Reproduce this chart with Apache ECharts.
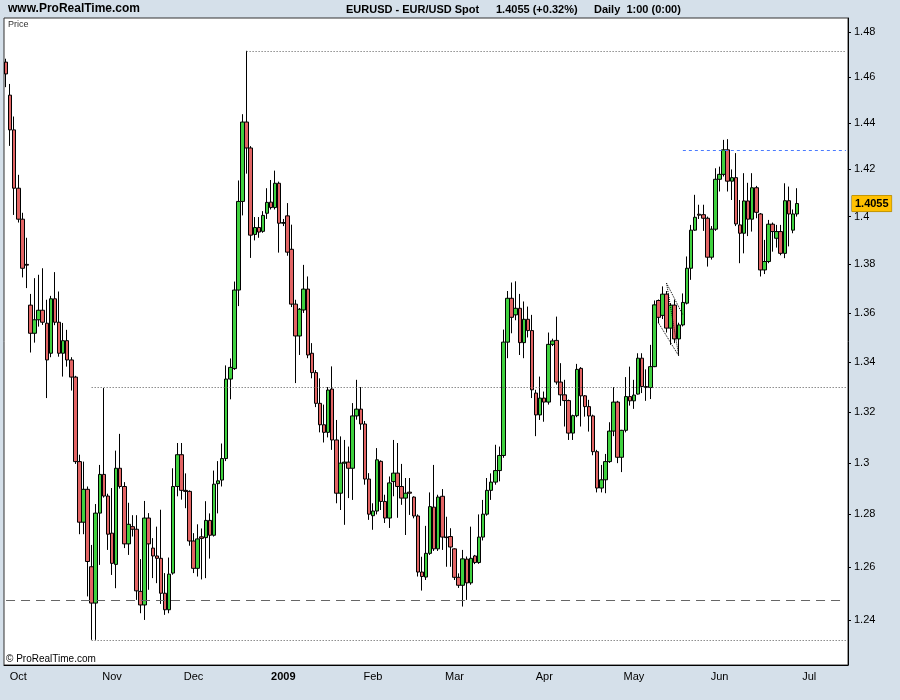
<!DOCTYPE html>
<html><head><meta charset="utf-8">
<script src="https://cdn.jsdelivr.net/npm/echarts@6/dist/echarts.min.js"></script>
<style>html,body{margin:0;padding:0;background:#d5e0ea;} #c{width:900px;height:700px;}</style>
</head><body><div id="c"></div>
<script>
// ---- calendar (daily bars, weekdays) ----
const firstDay = [2008, 8, 26];      // 26 Sep 2008
const lastAxisDay = [2009, 6, 14];   // axis extends to 14 Jul 2009
const holidays = ['2008-12-25'];
const monthNames = ['Jan','Feb','Mar','Apr','May','Jun','Jul','Aug','Sep','Oct','Nov','Dec'];

// ---- OHLC values (EUR/USD daily) ----
const opens = [
1.4666,1.4521,1.4370,1.4120,1.3989,1.3800,1.3632,1.3517,1.3572,1.3611,
1.3558,1.3436,1.3658,1.3562,1.3436,1.3487,1.3409,1.3340,1.3005,1.2770,
1.2897,1.2600,1.2463,1.2805,1.2955,1.2871,1.2728,1.2609,1.2979,1.2908,
1.2687,1.2753,1.2743,1.2507,1.2456,1.2786,1.2671,1.2641,1.2632,1.2500,
1.2438,1.2576,1.2908,1.3032,1.2893,1.2889,1.2698,1.2594,1.2714,1.2711,
1.2777,1.2720,1.2919,1.2933,1.3017,1.3332,1.3374,1.3694,1.4064,1.4404,
1.4292,1.3925,1.3954,1.3938,1.4014,1.4061,1.4038,1.4141,1.3972,1.4003,
1.3863,1.3636,1.3506,1.3612,1.3698,1.3436,1.3358,1.3235,1.3150,1.3120,
1.3292,1.3090,1.2882,1.2999,1.3003,1.2979,1.3185,1.3212,1.3153,1.2937,
1.2795,1.2813,1.3006,1.2850,1.2786,1.2927,1.2960,1.2908,1.2863,1.2886,
1.2867,1.2794,1.2580,1.2561,1.2651,1.2828,1.2668,1.2870,1.2713,1.2715,
1.2668,1.2560,1.2530,1.2629,1.2539,1.2641,1.2616,1.2713,1.2801,1.2893,
1.2925,1.2970,1.3029,1.3481,1.3660,1.3592,1.3619,1.3479,1.3574,1.3528,
1.3276,1.3189,1.3256,1.3240,1.3472,1.3488,1.3320,1.3269,1.3246,1.3117,
1.3186,1.3375,1.3265,1.3222,1.3185,1.3044,1.2902,1.2934,1.3005,1.3125,
1.3240,1.3022,1.3128,1.3262,1.3245,1.3272,1.3416,1.3302,1.3298,1.3382,
1.3651,1.3590,1.3677,1.3538,1.3632,1.3494,1.3551,1.3640,1.3784,1.3943,
1.4010,1.4008,1.3993,1.3830,1.3947,1.4158,1.4179,1.4284,1.4150,1.4165,
1.3965,1.3930,1.4066,1.3989,1.4122,1.4011,1.3777,1.3812,1.3968,1.3909,
1.3937,1.3846,1.4067,1.3943,1.4011];
const closes = [
1.4614,1.4370,1.4120,1.3989,1.3784,1.3797,1.3517,1.3572,1.3611,1.3562,
1.3409,1.3658,1.3562,1.3436,1.3487,1.3409,1.3340,1.3005,1.2770,1.2897,
1.2620,1.2463,1.2805,1.2955,1.2871,1.2724,1.2613,1.2979,1.2908,1.2687,
1.2762,1.2743,1.2509,1.2456,1.2786,1.2687,1.2641,1.2632,1.2500,1.2438,
1.2572,1.2908,1.3032,1.2893,1.2889,1.2698,1.2594,1.2706,1.2708,1.2777,
1.2720,1.2917,1.2930,1.3017,1.3332,1.3379,1.3694,1.4064,1.4404,1.4292,
1.3922,1.3954,1.3935,1.4005,1.4060,1.4038,1.4141,1.3972,1.3975,1.3851,
1.3636,1.3506,1.3615,1.3698,1.3429,1.3358,1.3235,1.3150,1.3120,1.3288,
1.3090,1.2882,1.2999,1.3003,1.2979,1.3185,1.3212,1.3153,1.2937,1.2801,
1.2813,1.3012,1.2850,1.2786,1.2922,1.2960,1.2908,1.2863,1.2882,1.2882,
1.2794,1.2580,1.2563,1.2651,1.2830,1.2668,1.2867,1.2713,1.2711,1.2675,
1.2560,1.2530,1.2630,1.2539,1.2632,1.2616,1.2713,1.2801,1.2893,1.2925,
1.2970,1.3029,1.3481,1.3660,1.3582,1.3619,1.3479,1.3574,1.3528,1.3289,
1.3189,1.3256,1.3240,1.3472,1.3486,1.3320,1.3269,1.3246,1.3117,1.3186,
1.3371,1.3265,1.3222,1.3185,1.3044,1.2902,1.2934,1.3005,1.3125,1.3240,
1.3022,1.3128,1.3262,1.3245,1.3268,1.3416,1.3302,1.3298,1.3382,1.3633,
1.3582,1.3677,1.3538,1.3632,1.3494,1.3551,1.3643,1.3784,1.3943,1.3997,
1.4006,1.3993,1.3830,1.3947,1.4158,1.4179,1.4284,1.4150,1.4165,1.3969,
1.3930,1.4066,1.3989,1.4122,1.4018,1.3777,1.3812,1.3968,1.3937,1.3937,
1.3846,1.4067,1.4011,1.4011,1.4055];
const highs = [
1.4681,1.4570,1.4428,1.4177,1.4016,1.3911,1.3678,1.3743,1.3757,1.3784,
1.3654,1.3670,1.3768,1.3688,1.3559,1.3531,1.3420,1.3345,1.3032,1.3005,
1.2908,1.2683,1.2840,1.2992,1.3296,1.2880,1.2902,1.3048,1.3114,1.2925,
1.2845,1.2797,1.2797,1.2629,1.2852,1.2805,1.2709,1.2753,1.2818,1.2576,
1.2635,1.2979,1.3078,1.3078,1.2959,1.2893,1.2728,1.2762,1.2746,1.2851,
1.2804,1.2970,1.3007,1.3076,1.3387,1.3415,1.3729,1.4153,1.4438,1.4716,
1.4300,1.3998,1.3998,1.4023,1.4120,1.4155,1.4195,1.4148,1.3990,1.4057,
1.3966,1.3654,1.3620,1.3798,1.3750,1.3477,1.3368,1.3335,1.3230,1.3300,
1.3383,1.3169,1.3104,1.3090,1.3064,1.3236,1.3329,1.3300,1.3165,1.2960,
1.2843,1.3058,1.3010,1.2876,1.2947,1.3090,1.3078,1.2996,1.2941,1.2941,
1.2870,1.2800,1.2638,1.2756,1.2885,1.2992,1.2876,1.2898,1.2791,1.2747,
1.2670,1.2575,1.2664,1.2639,1.2753,1.2645,1.2800,1.2856,1.2941,1.2959,
1.3071,1.3064,1.3532,1.3690,1.3725,1.3730,1.3678,1.3647,1.3626,1.3592,
1.3289,1.3342,1.3282,1.3520,1.3495,1.3585,1.3396,1.3329,1.3250,1.3190,
1.3393,1.3380,1.3268,1.3249,1.3190,1.3051,1.2992,1.3035,1.3160,1.3300,
1.3245,1.3130,1.3340,1.3382,1.3329,1.3436,1.3436,1.3371,1.3470,1.3651,
1.3655,1.3709,1.3690,1.3640,1.3654,1.3560,1.3680,1.3833,1.3965,1.4092,
1.4050,1.4050,1.4000,1.3960,1.4205,1.4212,1.4327,1.4330,1.4200,1.4270,
1.4070,1.4184,1.4143,1.4184,1.4130,1.4015,1.3902,1.3986,1.3975,1.3965,
1.3965,1.4141,1.4127,1.4030,1.4120];
const lows = [
1.4556,1.4301,1.4007,1.3975,1.3746,1.3702,1.3439,1.3479,1.3544,1.3551,
1.3256,1.3420,1.3550,1.3422,1.3342,1.3382,1.3286,1.2996,1.2724,1.2724,
1.2488,1.2326,1.2326,1.2607,1.2865,1.2664,1.2569,1.2519,1.2900,1.2671,
1.2645,1.2715,1.2475,1.2425,1.2400,1.2513,1.2557,1.2538,1.2460,1.2419,
1.2425,1.2570,1.2870,1.2857,1.2824,1.2680,1.2576,1.2563,1.2552,1.2557,
1.2631,1.2715,1.2804,1.2908,1.3007,1.3251,1.3369,1.3628,1.4005,1.4182,
1.3827,1.3900,1.3911,1.3932,1.3990,1.4030,1.4030,1.3849,1.3960,1.3836,
1.3624,1.3316,1.3429,1.3600,1.3416,1.3335,1.3220,1.3120,1.3080,1.3100,
1.3051,1.2843,1.2817,1.2760,1.2863,1.2856,1.3170,1.3130,1.2915,1.2779,
1.2741,1.2800,1.2817,1.2767,1.2748,1.2870,1.2787,1.2837,1.2721,1.2798,
1.2785,1.2563,1.2510,1.2550,1.2645,1.2660,1.2660,1.2664,1.2600,1.2600,
1.2550,1.2520,1.2450,1.2475,1.2532,1.2610,1.2611,1.2700,1.2795,1.2856,
1.2915,1.2928,1.3020,1.3416,1.3517,1.3570,1.3429,1.3416,1.3500,1.3256,
1.3105,1.3169,1.3162,1.3230,1.3465,1.3310,1.3225,1.3143,1.3090,1.3090,
1.3180,1.3143,1.3182,1.3123,1.3030,1.2885,1.2885,1.2882,1.3000,1.3105,
1.2999,1.2964,1.3120,1.3226,1.3213,1.3270,1.3276,1.3245,1.3252,1.3380,
1.3558,1.3575,1.3520,1.3470,1.3477,1.3430,1.3545,1.3635,1.3736,1.3940,
1.3990,1.3940,1.3791,1.3820,1.3940,1.4106,1.4170,1.4106,1.4070,1.3960,
1.3805,1.3846,1.3918,1.3937,1.3993,1.3750,1.3760,1.3805,1.3853,1.3870,
1.3838,1.3826,1.3875,1.3930,1.4000];

// ---- axis ticks and annotations ----
const priceTicks = [1.24,1.26,1.28,1.30,1.32,1.34,1.36,1.38,1.40,1.42,1.44,1.46,1.48];
const yMin = 1.2233, yMax = 1.4862;
const lastPrice = 1.4055;
const lastChange = '+0.32%';
const topLevel = 1.4716, topLevelStart = 59;
const midLevel = 1.3300, midLevelStart = 21;
const lowLevel = 1.2326, lowLevelStart = 21;
const dashedLevel = 1.2475;
const blueLevel = 1.4281, blueLevelStart = 166;
const trendApex = [162, 1.3722];
const trendEndA = [165, 1.3425];
const trendEndB = [166, 1.3592];
const trendLeft = [160, 1.3560];

// build categories (weekdays)
const categories = [];
for (let t = Date.UTC(firstDay[0], firstDay[1], firstDay[2]); t <= Date.UTC(lastAxisDay[0], lastAxisDay[1], lastAxisDay[2]); t += 86400000) {
  const d = new Date(t); const wd = d.getUTCDay();
  if (wd === 0 || wd === 6) continue;
  const s = d.toISOString().slice(0, 10);
  if (holidays.includes(s)) continue;
  categories.push(s);
}
const monthStart = categories.map((c, i) => i > 0 && c.slice(0, 7) !== categories[i - 1].slice(0, 7));
const firstCat = categories[0];
const lastCat = categories[categories.length - 1];

const ohlc = opens.map((o, i) => [o, closes[i], Math.min(lows[i], o, closes[i]), Math.max(highs[i], o, closes[i])]);

const FONT = '"Liberation Sans", Arial, sans-serif';
const dotted = { type: [1, 2], color: '#555', width: 1 };
const trendStyle = { type: [1, 1], color: '#000', width: 1 };

const chart = echarts.init(document.getElementById('c'), null, { renderer: 'canvas' });
chart.setOption({
  animation: false,
  backgroundColor: '#d5e0ea',
  textStyle: { fontFamily: FONT },
  grid: { left: 4, right: 52, top: 18, bottom: 35, show: true, backgroundColor: '#ffffff', borderColor: '#333', borderWidth: 1, containLabel: false, outerBoundsMode: 'none' },
  xAxis: {
    type: 'category', data: categories, boundaryGap: true,
    axisLine: { show: true, lineStyle: { color: '#000', width: 1 } },
    axisTick: { show: false },
    splitLine: { show: false },
    axisLabel: {
      interval: (i) => monthStart[i],
      color: '#000', fontSize: 11, fontFamily: FONT, margin: 6,
      formatter: (v) => { const m = +v.slice(5, 7); return m === 1 ? '{y|' + v.slice(0, 4) + '}' : monthNames[m - 1]; },
      rich: { y: { fontWeight: 'bold', fontSize: 11, fontFamily: FONT, color: '#000' } }
    }
  },
  yAxis: {
    type: 'log', logBase: 10, min: yMin, max: yMax, position: 'right',
    axisLine: { show: true, lineStyle: { color: '#000', width: 1 } },
    axisTick: { show: true, length: 3, customValues: priceTicks, lineStyle: { color: '#000' } },
    splitLine: { show: false },
    axisLabel: {
      customValues: priceTicks, color: '#000', fontSize: 11, fontFamily: FONT, margin: 6,
      formatter: (v) => String(parseFloat((+v).toFixed(2)))
    }
  },
  graphic: [
    { type: 'text', left: 8, top: 3, style: { text: 'www.ProRealTime.com', font: 'bold 12px ' + FONT, fill: '#000' } },
    { type: 'text', left: 346, top: 4, style: { text: 'EURUSD - EUR/USD Spot', font: 'bold 11px ' + FONT, fill: '#000' } },
    { type: 'text', left: 496, top: 4, style: { text: lastPrice.toFixed(4) + ' (' + lastChange + ')', font: 'bold 11px ' + FONT, fill: '#000' } },
    { type: 'text', left: 594, top: 4, style: { text: 'Daily  1:00 (0:00)', font: 'bold 11px ' + FONT, fill: '#000' } },
    { type: 'text', left: 8, top: 20, style: { text: 'Price', font: '9px ' + FONT, fill: '#333' } },
    { type: 'text', left: 6, top: 654, style: { text: '© ProRealTime.com', font: '10px ' + FONT, fill: '#000' } }
  ],
  series: [{
    type: 'candlestick',
    data: ohlc,
    barWidth: 4,
    itemStyle: { color: '#3fd13f', color0: '#e26464', borderColor: '#000', borderColor0: '#000', borderWidth: 1 },
    markLine: {
      silent: true, symbol: ['none', 'none'], animation: false, precision: 4,
      label: { show: false },
      emphasis: { disabled: true },
      data: [
        [{ coord: [categories[topLevelStart], topLevel], lineStyle: dotted }, { coord: [lastCat, topLevel] }],
        [{ coord: [categories[midLevelStart], midLevel], lineStyle: dotted }, { coord: [lastCat, midLevel] }],
        [{ coord: [categories[lowLevelStart], lowLevel], lineStyle: dotted }, { coord: [lastCat, lowLevel] }],
        [{ coord: [categories[blueLevelStart], blueLevel], lineStyle: { type: [3, 3], color: '#4a7bff', width: 1 } }, { coord: [lastCat, blueLevel] }],
        [{ coord: [firstCat, dashedLevel], lineStyle: { type: [9, 6], color: '#666', width: 1.2 } }, { coord: [lastCat, dashedLevel] }],
        [{ coord: [categories[trendApex[0]], trendApex[1]], lineStyle: trendStyle }, { coord: [categories[trendEndA[0]], trendEndA[1]] }],
        [{ coord: [categories[trendApex[0]], trendApex[1]], lineStyle: trendStyle }, { coord: [categories[trendEndB[0]], trendEndB[1]] }],
        [{ coord: [categories[trendLeft[0]], trendLeft[1]], lineStyle: trendStyle }, { coord: [categories[trendEndA[0]], trendEndA[1]] }],
        [{ coord: [firstCat, lastPrice], lineStyle: { color: 'rgba(0,0,0,0)', width: 0 },
           label: { show: true, position: 'end', distance: 6, formatter: lastPrice.toFixed(4),
                    backgroundColor: '#ffc000', borderColor: '#8a6a00', borderWidth: 0.5, padding: [3, 3, 2, 3],
                    color: '#000', fontWeight: 'bold', fontSize: 11, fontFamily: FONT } },
         { coord: [lastCat, lastPrice] }]
      ]
    }
  }]
});
</script>
</body></html>
